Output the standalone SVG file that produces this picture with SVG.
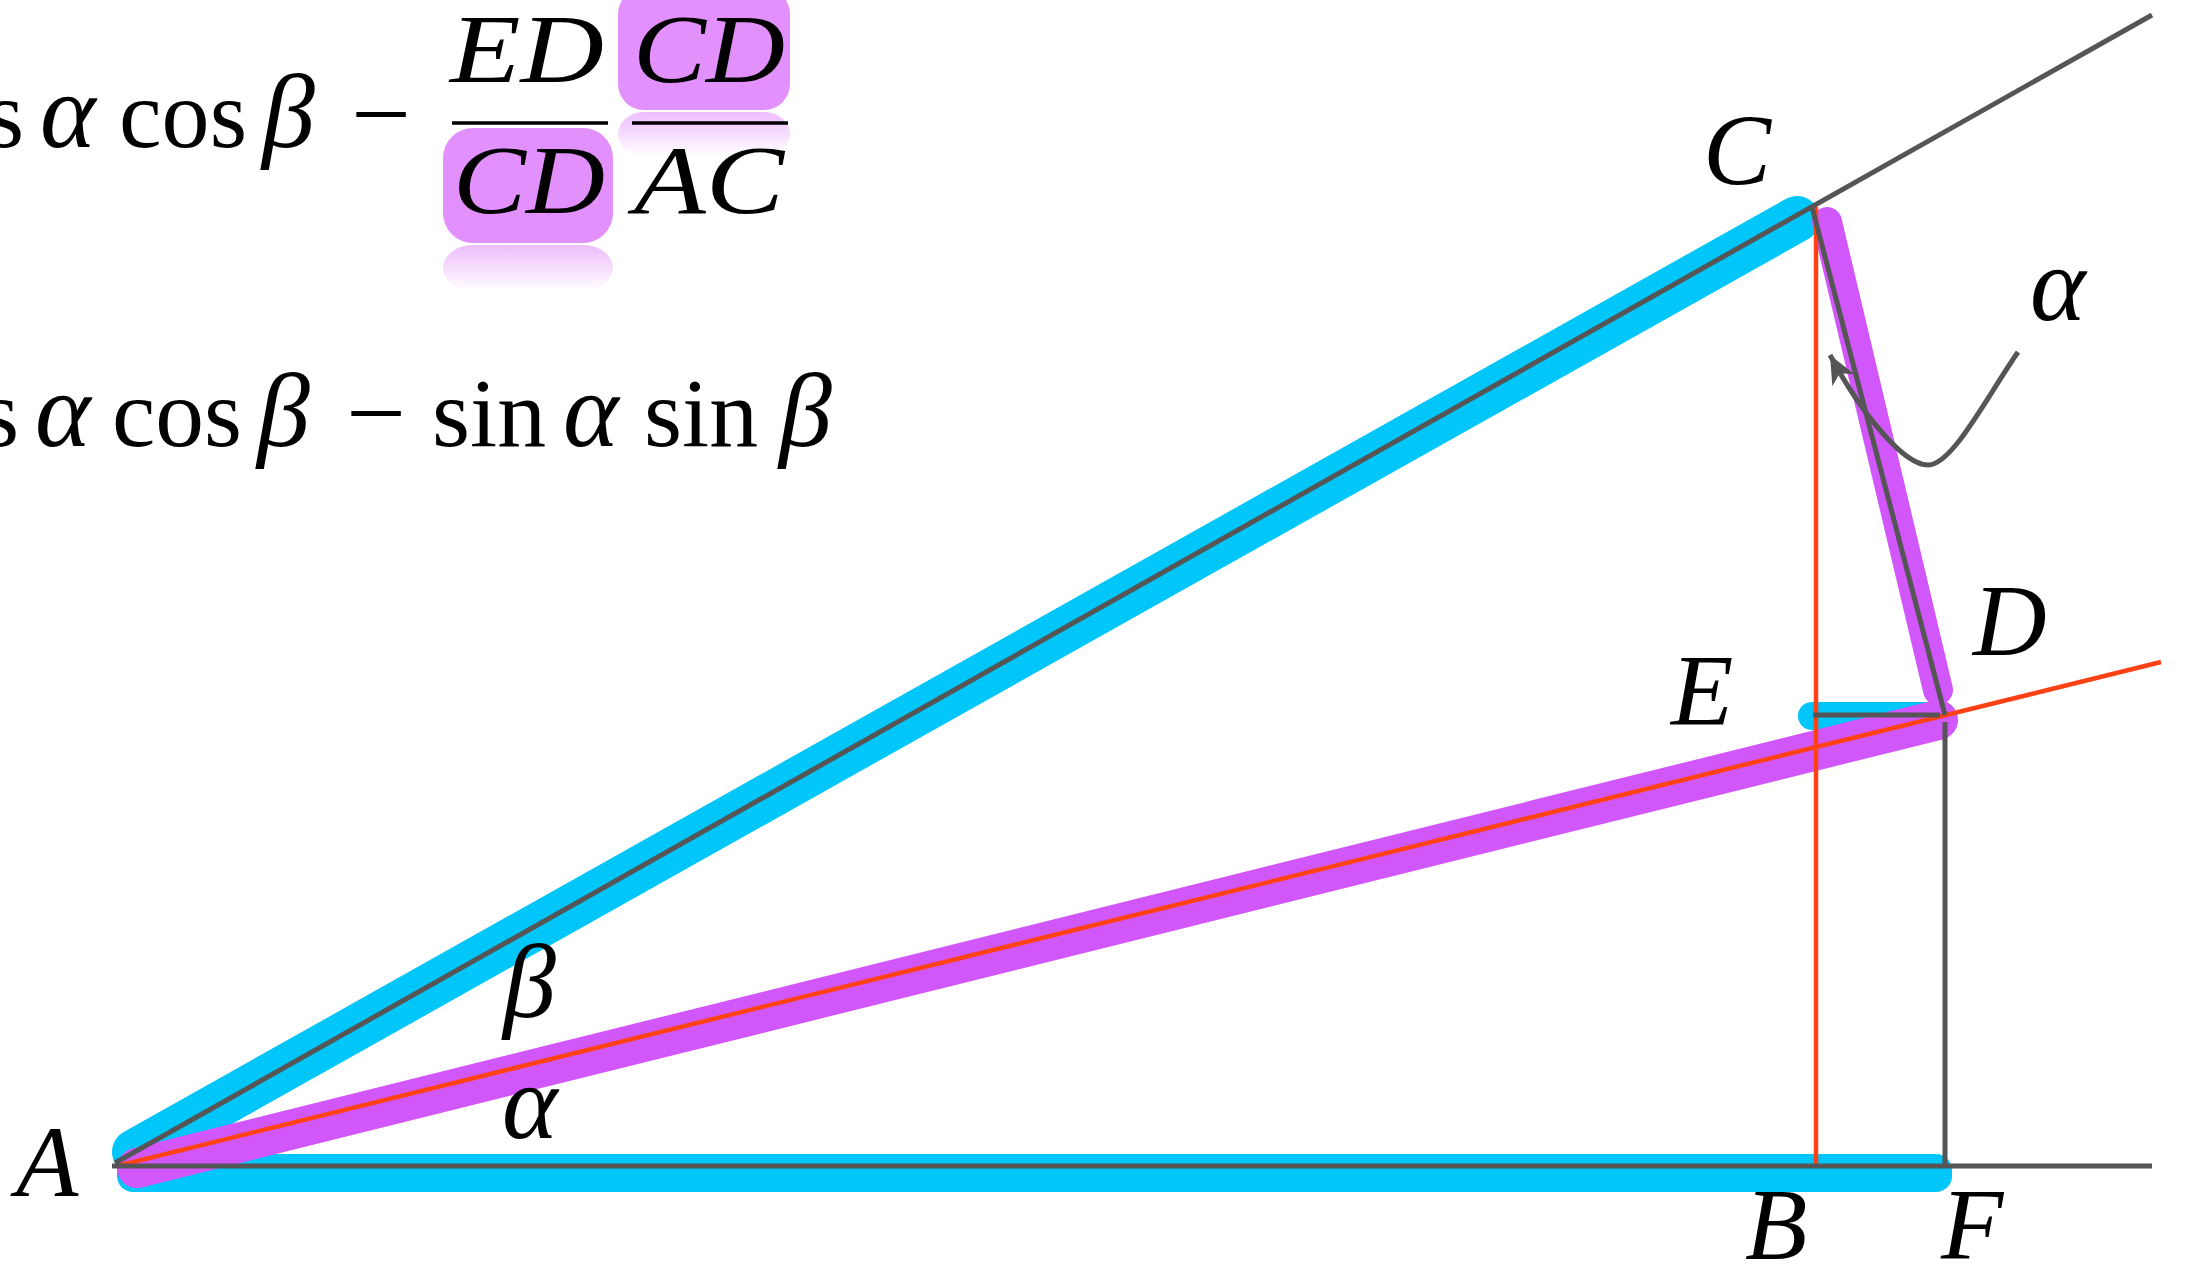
<svg xmlns="http://www.w3.org/2000/svg" width="2189" height="1266" viewBox="0 0 2189 1266">
<style>
.t{font-family:"Liberation Serif","Times New Roman",serif;font-size:98px;fill:#000}
.i{font-style:italic}
.gk{font-size:106px}
.lb{font-size:102px}
.g{stroke:#555;stroke-width:5;fill:none}
.r{stroke:#FF4216;stroke-width:4.5;fill:none}
.bl{stroke:#00C6FA;stroke-linecap:round;fill:none}
.pu{stroke:#D157FA;stroke-linecap:round;fill:none}
.hl{fill:#E291FC}
</style>
<defs>
<linearGradient id="refl" x1="0" y1="0" x2="0" y2="1">
<stop offset="0" stop-color="#E291FC" stop-opacity="0.6"/>
<stop offset="1" stop-color="#E291FC" stop-opacity="0"/>
</linearGradient>
<marker id="ah" markerUnits="userSpaceOnUse" markerWidth="40" markerHeight="40" viewBox="-30 -15 35 30" refX="0" refY="0" orient="auto">
<path d="M0,0 L-25,-11 L-18,0 L-25,11 Z" fill="#555"/>
</marker>
</defs>
<rect width="2189" height="1266" fill="#fff"/>

<g id="formula1">
<rect class="hl" x="618" y="-12" width="172" height="122" rx="26"/>
<rect x="618" y="112" width="172" height="44" rx="26" fill="url(#refl)"/>
<rect class="hl" x="443" y="128" width="170" height="115" rx="30"/>
<rect x="443" y="245" width="170" height="46" rx="30" fill="url(#refl)"/>
<text class="t" x="-14" y="147">s</text>
<text class="t i gk" x="40" y="147">α</text>
<text class="t" x="119" y="147" textLength="128" lengthAdjust="spacingAndGlyphs">cos</text>
<text class="t i gk" x="262" y="147">β</text>
<text class="t" x="351" y="147" textLength="60" lengthAdjust="spacingAndGlyphs">−</text>
<line x1="452" y1="123" x2="608" y2="123" stroke="#000" stroke-width="3.5"/>
<line x1="632" y1="123" x2="788" y2="123" stroke="#000" stroke-width="3.5"/>
<text class="t i" x="450" y="82" textLength="154" lengthAdjust="spacingAndGlyphs">ED</text>
<text class="t i" x="633" y="82" textLength="152" lengthAdjust="spacingAndGlyphs">CD</text>
<text class="t i" x="453" y="213" textLength="152" lengthAdjust="spacingAndGlyphs">CD</text>
<text class="t i" x="634" y="213" textLength="150" lengthAdjust="spacingAndGlyphs">AC</text>
</g>

<g id="formula2">
<text class="t" x="-19" y="446">s</text>
<text class="t i gk" x="35" y="446">α</text>
<text class="t" x="112" y="446" textLength="130" lengthAdjust="spacingAndGlyphs">cos</text>
<text class="t i gk" x="257" y="446">β</text>
<text class="t" x="346" y="446" textLength="60" lengthAdjust="spacingAndGlyphs">−</text>
<text class="t" x="432" y="446" textLength="114" lengthAdjust="spacingAndGlyphs">sin</text>
<text class="t i gk" x="563" y="446">α</text>
<text class="t" x="644" y="446" textLength="114" lengthAdjust="spacingAndGlyphs">sin</text>
<text class="t i gk" x="779" y="446">β</text>
</g>

<g id="connectors">
<line class="bl" x1="135" y1="1152" x2="1797" y2="219" stroke-width="46"/>
<rect x="117" y="1154" width="1835" height="38" rx="16" fill="#00C6FA"/>
<line class="bl" x1="1812" y1="716" x2="1925" y2="716" stroke-width="28"/>
<line class="pu" x1="137" y1="1168" x2="1938" y2="720" stroke-width="40"/>
<line class="pu" x1="1827" y1="222" x2="1938" y2="690" stroke-width="30"/>
<line class="r" x1="117" y1="1166" x2="2161" y2="662"/>
<line class="r" x1="1816" y1="207" x2="1816" y2="1166"/>
<line class="g" x1="115" y1="1163" x2="2152" y2="15"/>
<line class="g" x1="112" y1="1166" x2="2152" y2="1166"/>
<line class="g" x1="1812" y1="207" x2="1945" y2="715"/>
<line class="g" x1="1813" y1="715" x2="1940" y2="715"/>
<line class="g" x1="1945" y1="722" x2="1945" y2="1166"/>
<path class="g" d="M2018,352 C1985,400 1952,465 1928,465 C1904,465 1862,415 1830,355" marker-end="url(#ah)"/>
</g>

<g id="node-A"><text class="t i lb" x="16" y="1196">A</text></g>
<g id="node-B"><text class="t i lb" x="1745" y="1259">B</text></g>
<g id="node-C"><text class="t i lb" x="1703" y="185">C</text></g>
<g id="node-D"><text class="t i lb" x="1973" y="655">D</text></g>
<g id="node-E"><text class="t i lb" x="1671" y="725">E</text></g>
<g id="node-F"><text class="t i lb" x="1941" y="1259">F</text></g>
<g id="label-alpha-top"><text class="t i gk" x="2030" y="320">α</text></g>
<g id="label-beta"><text class="t i gk" x="503" y="1017">β</text></g>
<g id="label-alpha"><text class="t i gk" x="502" y="1138">α</text></g>
</svg>
